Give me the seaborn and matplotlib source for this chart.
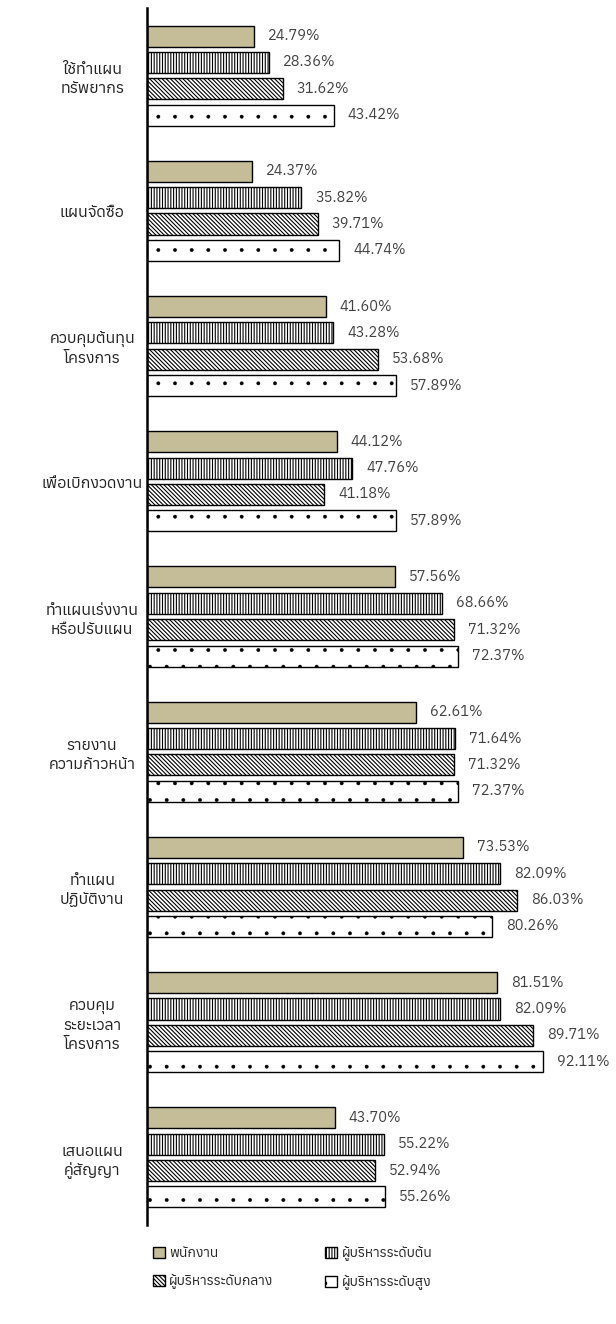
import matplotlib
matplotlib.use("Agg")
import numpy as np
import pandas as pd
import seaborn as sns
import matplotlib.pyplot as plt
from matplotlib import font_manager
from fontTools.ttLib import TTFont

categories = ["ใช้ทำแผน\nทรัพยากร", "แผนจัดซื้อ", "ควบคุมต้นทุน\nโครงการ", "เพื่อเบิกงวดงาน",
              "ทำแผนเร่งงาน\nหรือปรับแผน", "รายงาน\nความก้าวหน้า", "ทำแผน\nปฏิบัติงาน",
              "ควบคุม\nระยะเวลา\nโครงการ", "เสนอแผน\nคู่สัญญา"]
groups = ["พนักงาน", "ผู้บริหารระดับต้น", "ผู้บริหารระดับกลาง", "ผู้บริหารระดับสูง"]
staff = [24.79, 24.37, 41.60, 44.12, 57.56, 62.61, 73.53, 81.51, 43.70]
junior = [28.36, 35.82, 43.28, 47.76, 68.66, 71.64, 82.09, 82.09, 55.22]
middle = [31.62, 39.71, 53.68, 41.18, 71.32, 71.32, 86.03, 89.71, 52.94]
senior = [43.42, 44.74, 57.89, 57.89, 72.37, 72.37, 80.26, 92.11, 55.26]

# look for any installed font that can draw Thai
thai_fonts = []
for f in font_manager.fontManager.ttflist:
    try:
        tt = TTFont(f.fname, fontNumber=0, lazy=True)
        if 0x0E01 in tt.getBestCmap():
            thai_fonts.append(f.name)
    except Exception:
        pass
thai_fonts = sorted(set(thai_fonts))

sns.set_style("white")
plt.rcParams['font.family'] = thai_fonts[:1] + ['DejaVu Sans']
plt.rcParams['hatch.linewidth'] = 0.8

df = pd.DataFrame({
    'category': np.repeat(categories, 4),
    'group': groups * len(categories),
    'value': np.ravel(np.column_stack([staff, junior, middle, senior])),
})

fig = plt.figure(figsize=(6.16, 13.24), dpi=100)
ax = fig.add_axes([147 / 616, 1 - 1225 / 1324, (577 - 147) / 616, (1225 - 8) / 1324])

sns.barplot(data=df, y='category', x='value', hue='group', orient='h', ax=ax,
            palette=['#C4BD97', 'white', 'white', 'white'], width=0.78, gap=0.2,
            edgecolor='black', linewidth=1.0, legend=False, saturation=1)

hatches = [None, '||||||', '\\' * 8, '.']
for cont, h in zip(ax.containers, hatches):
    for p in cont.patches:
        if h:
            p.set_hatch(h)
            # thinner hatch for the small dots
            if h == '.' and hasattr(p, 'set_hatch_linewidth'):
                p.set_hatch_linewidth(0.3)
    ax.bar_label(cont, labels=[f'{w:.2f}%' for w in cont.datavalues],
                 padding=10, fontsize=10.5, color='#404040')

ax.set_xlim(0, 100)
ax.set_ylim(len(categories) - 0.5, -0.5)
ax.set_xlabel('')
ax.set_ylabel('')
ax.set_xticks([])
for s in ['top', 'right', 'bottom']:
    ax.spines[s].set_visible(False)
ax.spines['left'].set_color('black')
ax.spines['left'].set_linewidth(1.8)
ax.tick_params(axis='y', left=False, pad=36)
for lbl in ax.get_yticklabels():
    lbl.set_ha('center')
    lbl.set_multialignment('center')
    lbl.set_fontsize(11.5)
    lbl.set_color('#222222')

# legend filled row by row: staff, junior / middle, senior
order = [0, 2, 1, 3]
fig.legend([ax.containers[i] for i in order], [groups[i] for i in order],
           ncol=2, frameon=False, fontsize=10,
           loc='upper left', bbox_to_anchor=(140 / 616, 1 - 1234 / 1324),
           handlelength=0.9, handleheight=0.9, handletextpad=0.3,
           columnspacing=3.7, labelspacing=1.0)

fig.savefig('out.png', dpi=100)
